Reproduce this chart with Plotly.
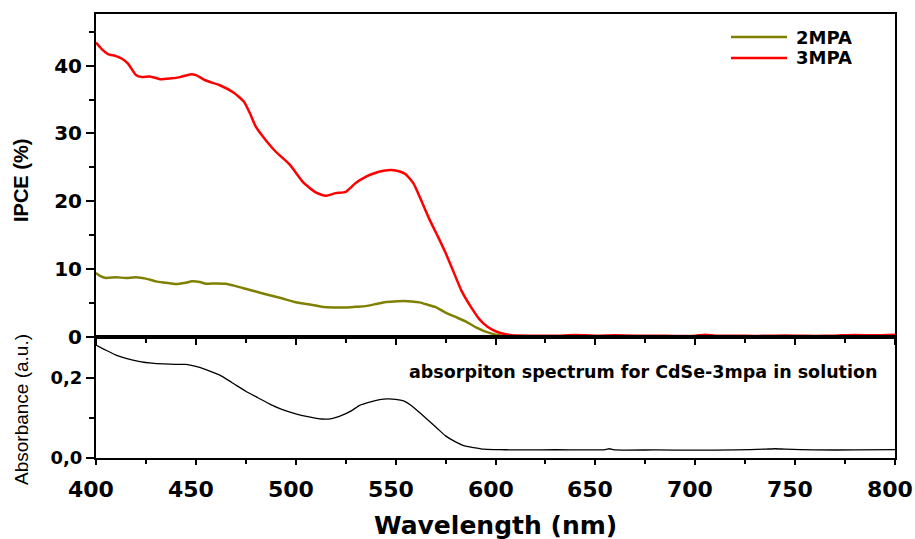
import plotly.graph_objects as go

# ---------------- data ----------------
red_wl = [400,403,406,410,413,416,420,423,427,432,437,442,447,450,455,462,469,474,477,480,
          485,490,497,504,510,515,520,525,530,535,539,544,548,552,555,559,563,567,571,575,
          579,583,588,592,596,600,605,610,620,630,640,650,660,670,680,690,700,705,710,720,
          730,740,750,760,770,780,790,800]
ipce_3mpa = [43.4,42.4,41.7,41.4,41.0,40.3,38.6,38.3,38.4,38.0,38.1,38.3,38.7,38.6,37.8,37.1,36.0,34.7,33.0,31.0,
             29.0,27.3,25.4,22.7,21.3,20.8,21.2,21.4,22.7,23.6,24.1,24.5,24.6,24.4,24.0,22.6,20.0,17.3,14.9,12.4,
             9.6,6.8,4.3,2.6,1.5,0.85,0.4,0.22,0.2,0.18,0.3,0.2,0.25,0.2,0.2,0.15,0.2,0.35,0.2,0.2,
             0.15,0.2,0.2,0.15,0.2,0.3,0.25,0.35]

olive_wl = [400,402,405,410,415,420,425,430,435,440,445,448,452,455,460,465,470,475,480,487,
            493,500,507,513,519,525,530,535,540,545,550,554,558,562,566,570,575,580,585,590,
            595,600,605,610,620,640,660,680,700,720,740,760,780,800]
ipce_2mpa = [9.45,9.0,8.7,8.8,8.7,8.8,8.6,8.2,8.0,7.8,8.0,8.2,8.1,7.85,7.9,7.85,7.5,7.1,6.7,6.15,
             5.7,5.12,4.8,4.45,4.35,4.35,4.45,4.55,4.85,5.17,5.25,5.3,5.25,5.1,4.75,4.4,3.6,2.95,2.3,1.45,
             0.8,0.35,0.15,0.1,0.08,0.1,0.1,0.08,0.1,0.08,0.1,0.08,0.1,0.1]

abs_wl = [400,405,410,415,422,428,434,440,445,450,455,462,468,475,481,487,493,500,506,513,
          518,523,528,532,537,542,546,550,554,558,562,567,571,575,580,584,589,594,600,605,
          615,630,645,655,657,660,680,700,720,735,740,745,760,780,800]
absorbance = [0.281,0.268,0.256,0.248,0.240,0.236,0.234,0.233,0.233,0.228,
              0.220,0.206,0.188,0.166,0.150,0.134,0.121,0.110,0.103,0.097,
              0.098,0.106,0.118,0.131,0.139,0.145,0.147,0.146,0.142,0.130,
              0.113,0.091,0.073,0.055,0.040,0.031,0.026,0.022,0.021,0.0205,
              0.020,0.0205,0.020,0.021,0.023,0.020,0.020,0.0195,0.020,0.022,
              0.023,0.022,0.020,0.020,0.021]

series_names = ["2MPA", "3MPA"]
series_colors = ["#808000", "#ff0000"]
x_ticks = [400, 450, 500, 550, 600, 650, 700, 750, 800]
ipce_ticks = [0, 10, 20, 30, 40]
abs_ticks = [0.0, 0.2]
abs_ticktext = ["0,0", "0,2"]

# ---------------- figure ----------------
BOLD = dict(family="DejaVu Sans", color="black", weight="bold")
W, H = 915, 539
ML, MR, MT, MB = 96, 20, 14, 81
PW, PH = W - ML - MR, H - MT - MB


def px_x(px):
    return (px - ML) / PW


def px_y(py):
    return (H - MB - py) / PH


fig = go.Figure()
fig.add_trace(go.Scatter(x=olive_wl, y=ipce_2mpa, name=series_names[0], mode="lines",
                         line=dict(color=series_colors[0], width=2.5, shape="spline", smoothing=0.5),
                         xaxis="x", yaxis="y"))
fig.add_trace(go.Scatter(x=red_wl, y=ipce_3mpa, name=series_names[1], mode="lines",
                         line=dict(color=series_colors[1], width=2.5, shape="spline", smoothing=0.5),
                         xaxis="x", yaxis="y"))
fig.add_trace(go.Scatter(x=abs_wl, y=absorbance, name="abs", mode="lines",
                         line=dict(color="black", width=1.3, shape="spline", smoothing=0.5),
                         xaxis="x2", yaxis="y2"))

split = 121 / PH

# custom legend (lines + labels)
shapes = []
annotations = []
for i, (nm, col) in enumerate(zip(series_names, series_colors)):
    ly = 37 + i * 21
    shapes.append(dict(type="line", xref="paper", yref="paper",
                       x0=px_x(731), x1=px_x(787), y0=px_y(ly), y1=px_y(ly),
                       line=dict(color=col, width=2.5)))
    annotations.append(dict(text=nm, xref="paper", yref="paper", x=px_x(794), y=px_y(ly),
                            xanchor="left", yanchor="middle", showarrow=False,
                            font=dict(size=18, **BOLD)))

# x tick labels placed on the bottom axis scale
for v in x_ticks:
    annotations.append(dict(text=str(v), x=v, xref="x2", y=0, yref="paper",
                            xanchor="center", yanchor="top", yshift=-17, xshift=-5,
                            showarrow=False, font=dict(size=22, **BOLD)))

annotations.append(dict(text="absorpiton spectrum for CdSe-3mpa in solution",
                        x=674, y=0.214, xref="x2", yref="y2", showarrow=False,
                        xanchor="center", yanchor="middle",
                        font=dict(size=17.5, **BOLD)))
annotations.append(dict(text="IPCE (%)", xref="paper", yref="paper",
                        x=px_x(21), y=px_y(181), textangle=-90, showarrow=False,
                        xanchor="center", yanchor="middle",
                        font=dict(family="Liberation Sans", size=20, color="black", weight="bold")))
annotations.append(dict(text="Absorbance (a.u.)", xref="paper", yref="paper",
                        x=px_x(21), y=px_y(410), textangle=-90, showarrow=False,
                        xanchor="center", yanchor="middle",
                        font=dict(family="Liberation Sans", size=19, color="black")))

common = dict(showline=True, linecolor="black", linewidth=2, mirror=True,
              showgrid=False, zeroline=False, automargin=False)

fig.update_layout(
    width=W, height=H,
    margin=dict(l=ML, r=MR, t=MT, b=MB, autoexpand=False),
    paper_bgcolor="white", plot_bgcolor="white",
    showlegend=False,
    shapes=shapes,
    annotations=annotations,
    xaxis=dict(domain=[0, 1], range=[400, 800], anchor="y",
               showticklabels=False, tickvals=x_ticks, ticks="outside", ticklen=6,
               tickwidth=2, tickcolor="black",
               minor=dict(dtick=25, tick0=400, ticks="outside", ticklen=4, tickwidth=1.5,
                          tickcolor="black"),
               **common),
    yaxis=dict(domain=[split, 1], range=[0, 47.6], anchor="x",
               tickvals=ipce_ticks, ticks="outside", ticklen=8, tickwidth=2, tickcolor="black",
               minor=dict(dtick=5, tick0=0, ticks="outside", ticklen=5, tickwidth=1.5,
                          tickcolor="black"),
               tickfont=dict(size=20, **BOLD),
               **common),
    xaxis2=dict(domain=[0, 1], range=[400, 800], anchor="y2",
                tickvals=x_ticks, ticks="outside", ticklen=5, tickwidth=2, tickcolor="black",
                showticklabels=False,
                minor=dict(dtick=25, tick0=400, ticks="outside", ticklen=4, tickwidth=1.5,
                           tickcolor="black"),
                **common),
    yaxis2=dict(domain=[0, split], range=[0, 0.301], anchor="x2",
                tickvals=abs_ticks, ticktext=abs_ticktext,
                ticks="outside", ticklen=8, tickwidth=2, tickcolor="black",
                minor=dict(dtick=0.1, tick0=0, ticks="outside", ticklen=5, tickwidth=1.5,
                           tickcolor="black"),
                tickfont=dict(size=18, **BOLD),
                **common),
)
fig.add_annotation(text="Wavelength (nm)", x=0.5, xref="paper", y=px_y(525), yref="paper",
                   xanchor="center", yanchor="middle", showarrow=False,
                   font=dict(size=25, **BOLD))

fig.write_html("out.html")
